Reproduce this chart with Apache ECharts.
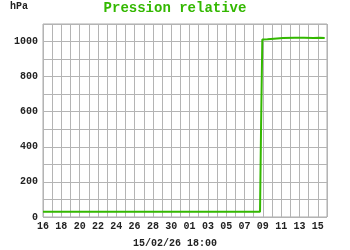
<!DOCTYPE html>
<html><head><meta charset="utf-8">
<script src="https://cdn.jsdelivr.net/npm/echarts@6/dist/echarts.min.js"></script>
<style>html,body{margin:0;padding:0;background:#fff}#c{width:350px;height:250px}</style>
</head><body><div id="c"></div>
<script>
// x values are days since 16 Jan 00:00
const dayLabels = ['16','17','18','19','20','21','22','23','24','25','26','27','28','29','30','31','01','02','03','04','05','06','07','08','09','10','11','12','13','14','15','16'];
const days =   [0,  4,  8,  12, 16, 20, 23.69, 23.8, 23.94, 24.5, 25.2, 26.2, 27.5, 28.5, 29.5, 30.2, 30.75];
const values = [30, 30, 30, 30, 30, 30, 30,    500,  1012,  1013, 1016, 1020, 1021, 1021, 1020, 1021, 1020];
const yTicks = [0, 200, 400, 600, 800, 1000];
const titleText = 'Pression relative';
const unitText = 'hPa';
const dateText = '15/02/26 18:00';

const green = '#33b800';
const mono = '"Liberation Mono", "DejaVu Sans Mono", monospace';
const chart = echarts.init(document.getElementById('c'), null, {renderer:'canvas'});
chart.setOption({
  animation:false,
  backgroundColor:'#fff',
  title:{text:titleText,left:'center',top:1,padding:0,
    textStyle:{color:green,fontFamily:mono,fontWeight:'bold',fontSize:14}},
  graphic:[
    {type:'text',left:10,top:1,style:{text:unitText,font:'bold 10px '+mono,fill:'#222'}},
    {type:'text',left:'center',top:238,style:{text:dateText,font:'bold 10px '+mono,fill:'#222'}}
  ],
  grid:{left:43,right:23,top:24,bottom:33,show:true,borderColor:'#aaa',borderWidth:1},
  xAxis:{type:'value',min:0,max:31,interval:1,
    axisLine:{show:false},axisTick:{show:false},
    splitLine:{show:true,lineStyle:{color:'#b4b4b4',width:1}},
    axisLabel:{margin:4,color:'#222',fontFamily:mono,fontWeight:'bold',fontSize:10,
      formatter:v=>(v%2===0 && v<=30)?dayLabels[v]:''}},
  yAxis:{type:'value',min:0,max:1100,interval:100,
    axisLine:{show:false},axisTick:{show:false},
    splitLine:{show:true,lineStyle:{color:'#b4b4b4',width:1}},
    axisLabel:{margin:5,color:'#222',fontFamily:mono,fontWeight:'bold',fontSize:10,
      formatter:v=>yTicks.indexOf(v)>=0?String(v):''}},
  series:[{type:'line',data:days.map((d,i)=>[d,values[i]]),showSymbol:false,
    lineStyle:{color:green,width:2},itemStyle:{color:green}}]
});
</script></body></html>
